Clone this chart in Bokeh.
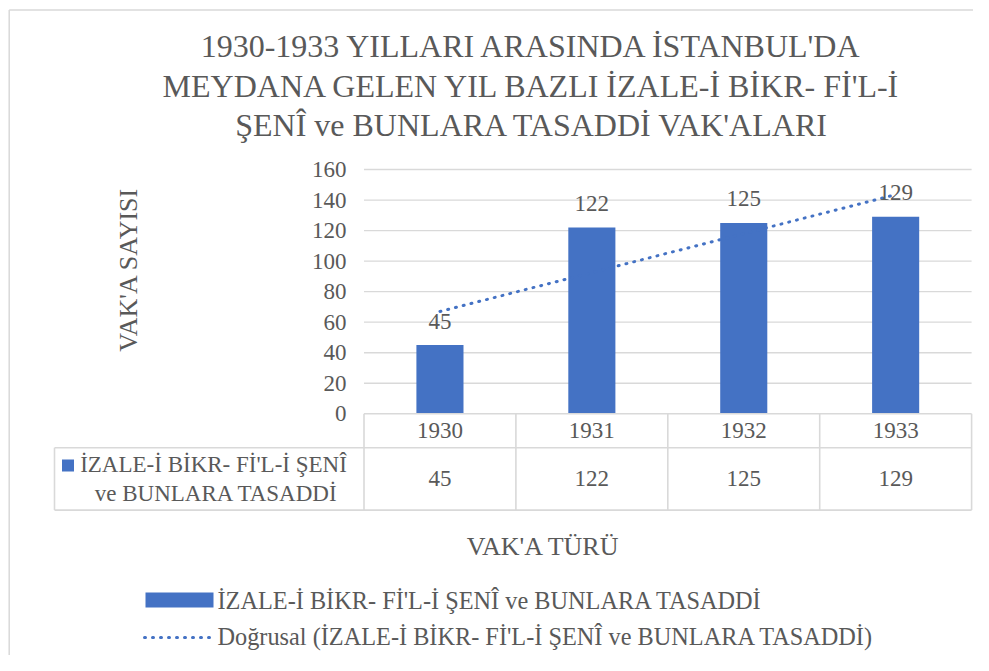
import numpy as np
from bokeh.plotting import figure
from bokeh.models import Range1d
from bokeh.core.properties import value
from bokeh.embed import file_html
from bokeh.resources import INLINE

# ---- data ----
years = ["1930", "1931", "1932", "1933"]
counts = [45, 122, 125, 129]
y_ticks = [0, 20, 40, 60, 80, 100, 120, 140, 160]
series_name = "İZALE-İ BİKR- Fİ'L-İ ŞENÎ ve BUNLARA TASADDİ"
series_table_lines = ["İZALE-İ BİKR- Fİ'L-İ ŞENÎ", "ve BUNLARA TASADDİ"]
trend_name = "Doğrusal (İZALE-İ BİKR- Fİ'L-İ ŞENÎ ve BUNLARA TASADDİ)"
title_lines = [
    "1930-1933 YILLARI ARASINDA İSTANBUL'DA",
    "MEYDANA GELEN YIL BAZLI İZALE-İ BİKR- Fİ'L-İ",
    "ŞENÎ ve BUNLARA TASADDİ VAK'ALARI",
]
y_title = "VAK'A SAYISI"
x_title = "VAK'A TÜRÜ"

# ---- styling / layout ----
BAR = "#4472C4"
TXT = "#595959"
GRID = "#D9D9D9"
FONT = value("'Liberation Serif', 'Times New Roman', serif")
W, H = 973, 655
OX, OY = 0, 0               # page position of the canvas origin
X0, UX = 363.5, 151.9      # pixel of category 0, pixels per category
Y0, UY = 413.3, 244.3 / 160  # pixel of value 0, pixels per unit


def ux(X):
    return (X - X0) / UX


def vy(Y):
    return (Y0 - Y) / UY


p = figure(width=W, height=H, x_range=Range1d(ux(OX), ux(OX + W)),
           y_range=Range1d(vy(OY + H), vy(OY)), toolbar_location=None,
           output_backend="svg", x_axis_location=None, y_axis_location=None,
           min_border=0)
p.grid.visible = False
p.outline_line_color = None
p.background_fill_color = "white"


def texts(xs, ys, labels, size, align="center", **kw):
    p.text(x=list(xs), y=list(ys), text=list(labels), text_align=align,
           text_baseline="middle", text_font=FONT,
           text_font_size=size, text_color=TXT, **kw)


# chart border (top / left visible)
p.segment(x0=[ux(8.7), ux(8.7)], y0=[vy(9.5), vy(9.5)], x1=[ux(8.7), ux(990)],
          y1=[vy(680), vy(9.5)], line_color=GRID, line_width=1.5)

n = len(years)
xc = [i + 0.5 for i in range(n)]

# gridlines
gt = y_ticks[1:]
p.segment(x0=[0] * len(gt), y0=gt, x1=[n] * len(gt), y1=gt,
          line_color=GRID, line_width=1.3)

# tick labels
texts([ux(346)] * len(y_ticks), y_ticks, [str(t) for t in y_ticks], "23px",
      align="right")

# bars
p.vbar(x=xc, top=counts, bottom=0, width=0.31, fill_color=BAR, line_color=None)

# linear trendline
coef = np.polyfit(np.arange(n), counts, 1)
trend = np.polyval(coef, np.arange(n))
p.line(x=xc, y=trend, line_color=BAR, line_width=3, line_dash="1 7",
       line_cap="round")

# data labels
texts(xc, counts, [str(c) for c in counts], "23px", y_offset=-24)

# data table
r1, r2, r3 = vy(413.3), vy(447.3), vy(509.6)
left = ux(54)
hx0 = [0, left, left]
hx1 = [n, n, n]
hy = [r1, r2, r3]
p.segment(x0=hx0, y0=hy, x1=hx1, y1=hy, line_color=GRID, line_width=1.6)
vx = list(range(n + 1)) + [left]
vy0 = [r1] * (n + 1) + [r2]
vy1 = [r3] * (n + 2)
p.segment(x0=vx, y0=vy0, x1=vx, y1=vy1, line_color=GRID, line_width=1.6)

texts(xc, [(r1 + r2) / 2] * n, years, "23px")
texts(xc, [(r2 + r3) / 2] * n, [str(c) for c in counts], "23px")
p.scatter(x=[ux(67.5)], y=[vy(465)], marker="square", size=12,
          fill_color=BAR, line_color=None)
texts([ux(213), ux(216)], [vy(464), vy(493)], series_table_lines, "23px")

# title
texts([ux(532)] * 3, [vy(45), vy(85), vy(124)], title_lines, "32px")

# axis titles
texts([ux(128)], [vy(269)], [y_title], "26px", angle=np.pi / 2)
texts([ux(543)], [vy(546)], [x_title], "26px")

# legend
p.rect(x=[ux(179)], y=[vy(599.5)], width=68, height=15, width_units="screen",
       height_units="screen", fill_color=BAR, line_color=None)
p.line(x=[ux(144), ux(212)], y=[vy(637), vy(637)], line_color=BAR,
       line_width=3, line_dash="1 7", line_cap="round")
texts([ux(217), ux(217)], [vy(600), vy(636)], [series_name, trend_name],
      "24.3px", align="left")

open("out.html", "w").write(file_html(p, INLINE))
